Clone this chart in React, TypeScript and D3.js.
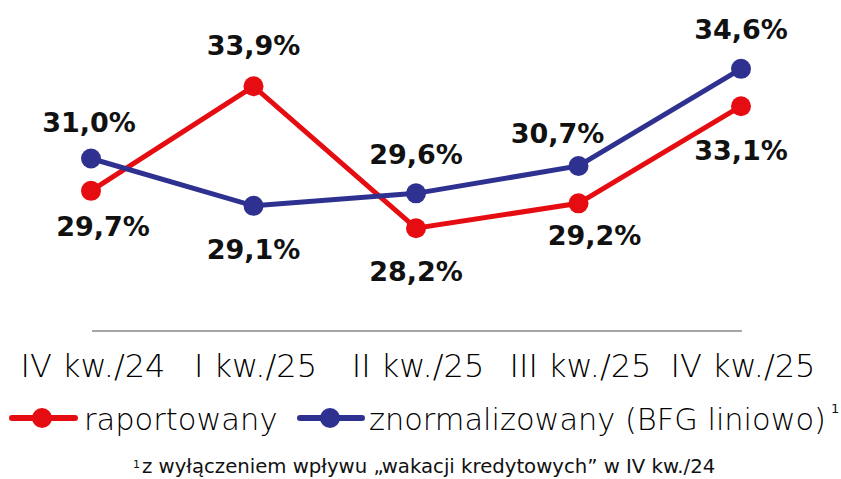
import React from 'react';
import * as d3 from 'd3';

const quarters = ['IV kw./24', 'I kw./25', 'II kw./25', 'III kw./25', 'IV kw./25'];
const reported = [29.7, 33.9, 28.2, 29.2, 33.1];
const normalized = [31.0, 29.1, 29.6, 30.7, 34.6];
const seriesNames = ['raportowany', 'znormalizowany (BFG liniowo)'];
const footnote = 'z wyłączeniem wpływu „wakacji kredytowych” w IV kw./24';

// label nudges relative to each point (px)
const redLabelOffsets: [number, number][] = [[12, 45], [0, -31], [0, 53], [16, 42], [0, 54]];
const blueLabelOffsets: [number, number][] = [[-2, -27], [0, 53], [0, -29], [-21, -23], [0, -30]];

const RED = '#e50d12';
const BLUE = '#2e3190';
const W = 841;
const H = 479;

const fmt = (v: number) => v.toFixed(1).replace('.', ',') + '%';

const App: React.FC = () => {
    const x = d3.scalePoint<string>().domain(quarters).range([91, 741]);
    const y = d3.scaleLinear().domain([26, 36]).range([283, 34]);

    const line = d3.line<number>()
        .x((d, i) => x(quarters[i]) || 0)
        .y((d) => y(d));

    const series = [
        { values: reported, color: RED, offsets: redLabelOffsets },
        { values: normalized, color: BLUE, offsets: blueLabelOffsets },
    ];

    return (
        <svg width={W} height={H} style={{ position: 'absolute', left: 0, top: 0 }}
            fontFamily="'DejaVu Sans', sans-serif">
            <rect width={W} height={H} fill="#fff" />
            <line x1={92} x2={742} y1={331} y2={331} stroke="#888" strokeWidth={1.5} />

            {series.map((s, si) => (
                <g key={si}>
                    <path d={line(s.values) || ''} fill="none" stroke={s.color} strokeWidth={5} />
                    {s.values.map((v, i) => (
                        <circle key={i} cx={x(quarters[i])} cy={y(v)} r={10} fill={s.color} />
                    ))}
                </g>
            ))}

            {series.map((s, si) => (
                <g key={'l' + si}>
                    {s.values.map((v, i) => (
                        <text key={i}
                            x={(x(quarters[i]) || 0) + s.offsets[i][0]}
                            y={y(v) + s.offsets[i][1]}
                            textAnchor="middle" fontSize={27} fontWeight="bold" fill="#111">
                            {fmt(v)}
                        </text>
                    ))}
                </g>
            ))}

            {quarters.map((q) => (
                <text key={q} x={(x(q) || 0) + 2} y={377} textAnchor="middle"
                    fontSize={32} fontWeight={300} fill="#000">{q}</text>
            ))}

            {/* legend */}
            <g>
                <line x1={12} x2={75} y1={418} y2={418} stroke={RED} strokeWidth={6} strokeLinecap="round" />
                <circle cx={42} cy={418} r={10} fill={RED} />
                <text x={84} y={430} fontSize={30.5} fontWeight={300} fill="#000">{seriesNames[0]}</text>
                <line x1={300} x2={362} y1={418} y2={418} stroke={BLUE} strokeWidth={6} strokeLinecap="round" />
                <circle cx={330} cy={418} r={10} fill={BLUE} />
                <text x={369} y={430} fontSize={30.5} fontWeight={300} fill="#000"
                    textLength={457} lengthAdjust="spacingAndGlyphs">{seriesNames[1]}</text>
                <text x={831} y={413} fontSize={13} fill="#111">1</text>
            </g>

            <text x={133} y={468} fontSize={11} fill="#111">1</text>
            <text x={142} y={473} fontSize={19.7} fill="#111">{footnote}</text>
        </svg>
    );
};

export default App;
